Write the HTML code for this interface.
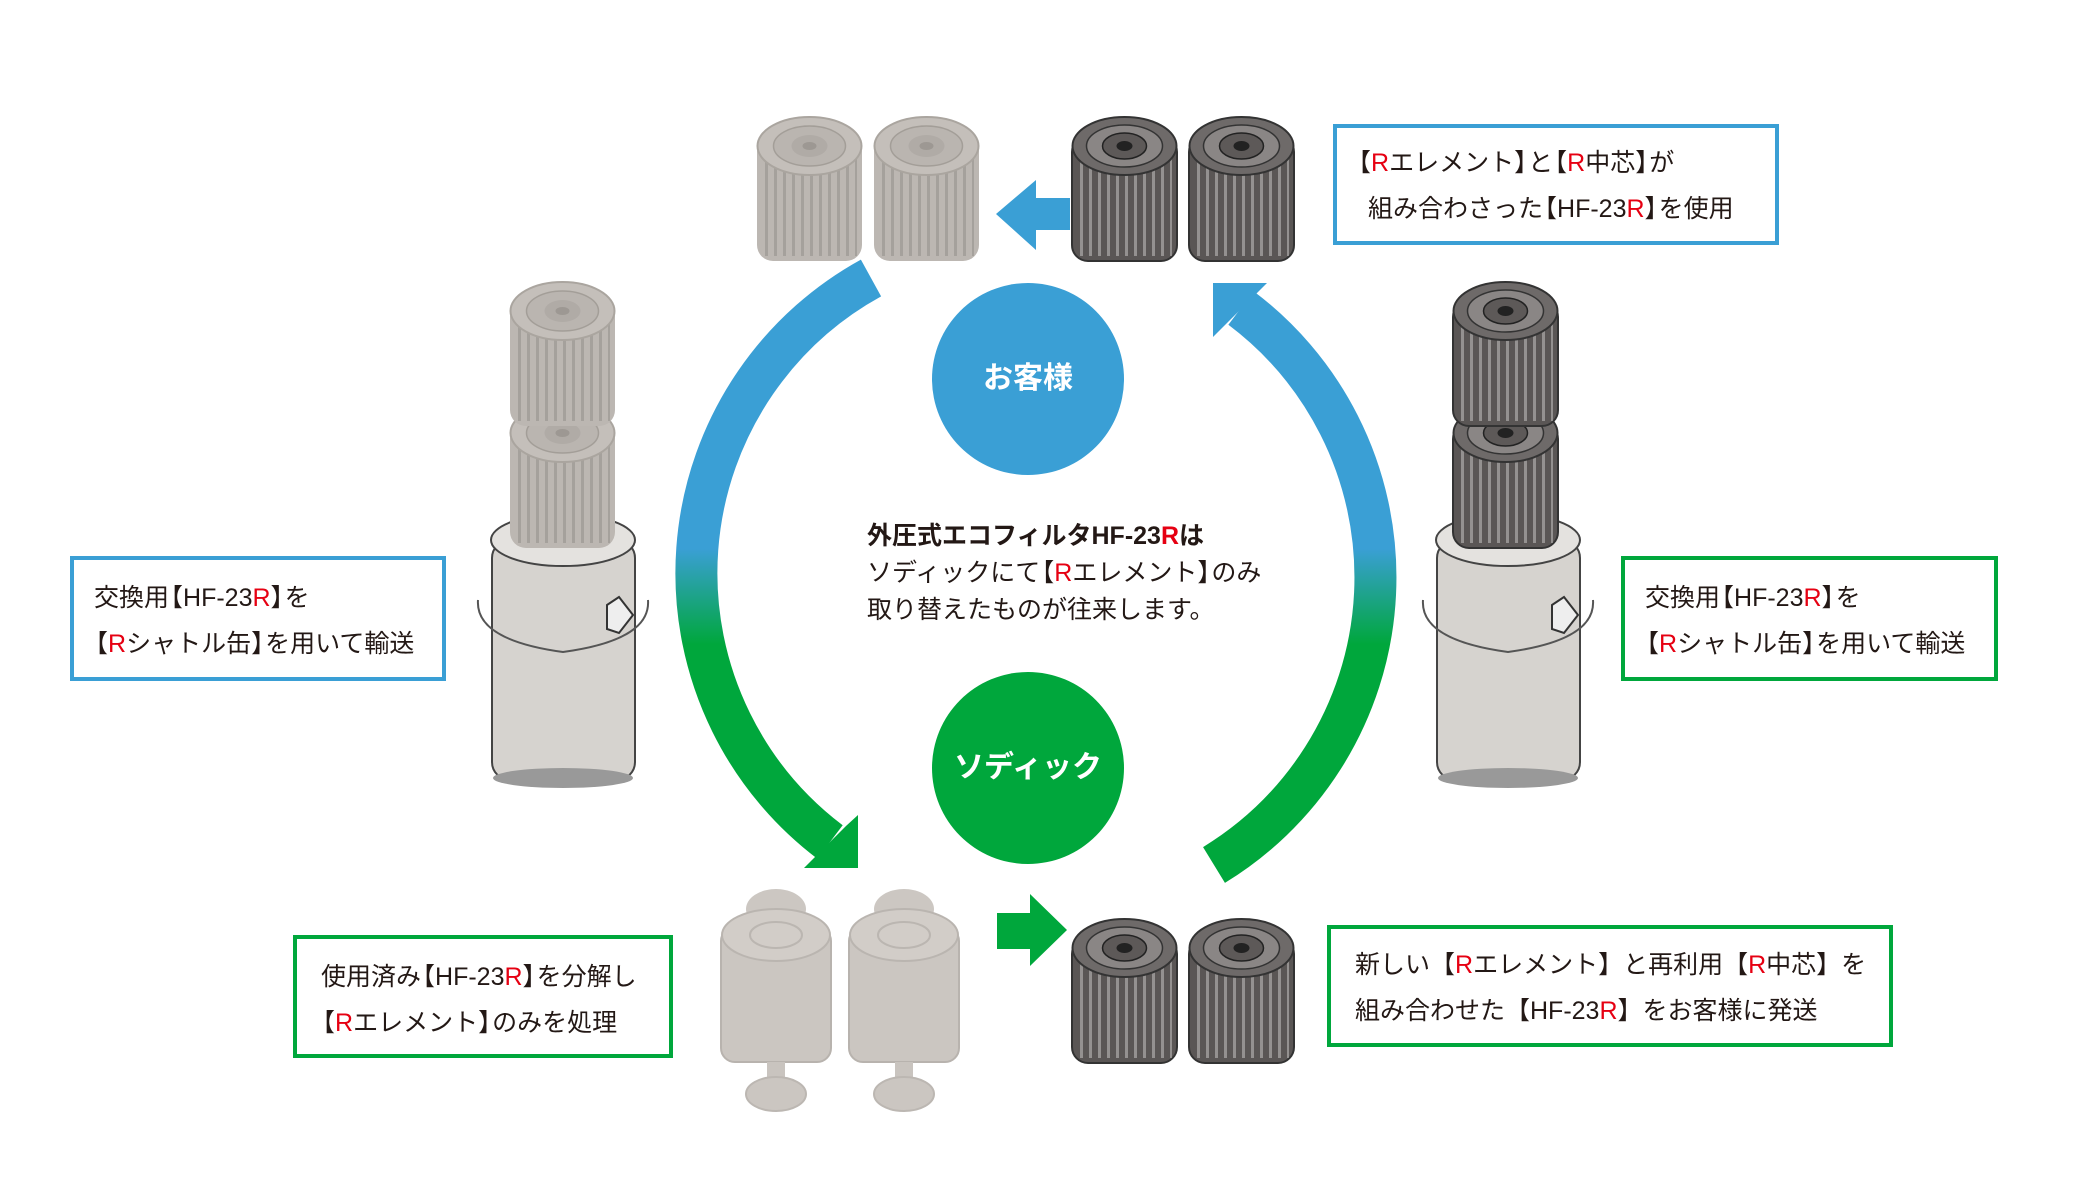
<!DOCTYPE html>
<html><head><meta charset="utf-8">
<style>
html,body{margin:0;padding:0;background:#fff;}
body{width:2079px;height:1193px;position:relative;overflow:hidden;font-family:"Liberation Sans","Noto Sans CJK JP",sans-serif;color:#231815;}
.box{position:absolute;box-sizing:border-box;border:4px solid #3a9fd5;background:#fff;font-size:25px;line-height:46px;padding-top:12px;white-space:nowrap;}
.g{border-color:#00a73c;}
.r{color:#e60012;}
.l{margin-left:-11px;}
.rr{margin-right:-11px;}
.ctext{position:absolute;left:867px;top:518px;font-size:25px;line-height:37px;white-space:nowrap;}
.circ{position:absolute;width:192px;height:192px;border-radius:50%;color:#fff;font-weight:bold;font-size:30px;text-align:center;line-height:192px;}
svg{position:absolute;left:0;top:0;}
</style></head><body>
<svg width="2079" height="1193" viewBox="0 0 2079 1193">
<defs>
<linearGradient id="arcg" x1="0" y1="0" x2="0" y2="1193" gradientUnits="userSpaceOnUse">
<stop offset="0.46" stop-color="#3a9fd5"/><stop offset="0.54" stop-color="#00a73c"/>
</linearGradient>
<pattern id="str" width="9" height="10" patternUnits="userSpaceOnUse"><rect x="0" width="3" height="10" fill="rgba(0,0,0,0.35)"/></pattern>
<pattern id="strL" width="9" height="10" patternUnits="userSpaceOnUse"><rect x="0" width="3" height="10" fill="rgba(255,255,255,0.35)"/></pattern>
<symbol id="fdark" viewBox="0 0 107 150">
<rect x="1" y="20" width="105" height="125" rx="16" fill="#5a5655" stroke="#333" stroke-width="2"/>
<rect x="6" y="40" width="95" height="100" fill="url(#strL)"/>
<ellipse cx="53.5" cy="30" rx="52" ry="29" fill="#6e6a69" stroke="#333" stroke-width="2"/>
<ellipse cx="53.5" cy="30" rx="38" ry="21" fill="#8a8685" stroke="#333" stroke-width="1.5"/>
<ellipse cx="53.5" cy="30" rx="22" ry="13" fill="#5d5958" stroke="#222" stroke-width="1.5"/>
<ellipse cx="53.5" cy="30" rx="8" ry="5" fill="#222"/>
</symbol>
<symbol id="flight" viewBox="0 0 107 150">
<rect x="1" y="20" width="105" height="125" rx="16" fill="#bcb7b2"/>
<rect x="6" y="40" width="95" height="100" fill="url(#str)" opacity="0.35"/>
<ellipse cx="53.5" cy="30" rx="52" ry="29" fill="#c4bfba" stroke="#aaa59f" stroke-width="2"/>
<ellipse cx="53.5" cy="30" rx="36" ry="20" fill="#bab5b0" stroke="#a39e98" stroke-width="1.5"/>
<ellipse cx="53.5" cy="30" rx="18" ry="11" fill="#b0aba6"/>
<ellipse cx="53.5" cy="30" rx="7" ry="4" fill="#9d9893"/>
</symbol>
<symbol id="cart" viewBox="0 0 114 227">
<ellipse cx="57" cy="22" rx="30" ry="20" fill="#ccc7c2"/>
<rect x="2" y="40" width="110" height="135" rx="14" fill="#cbc6c1" stroke="#b8b3ae" stroke-width="2"/>
<ellipse cx="57" cy="48" rx="54" ry="26" fill="#d2cdc8" stroke="#bab5b0" stroke-width="2"/>
<ellipse cx="57" cy="48" rx="26" ry="13" fill="none" stroke="#bbb6b1" stroke-width="2"/>
<rect x="48" y="175" width="18" height="25" fill="#c9c4bf"/>
<ellipse cx="57" cy="207" rx="30" ry="17" fill="#cbc6c1" stroke="#bcb7b2" stroke-width="2"/>
</symbol>
</defs>
<!-- arcs -->
<path d="M871,278 A337,337 0 0 0 830,842" fill="none" stroke="url(#arcg)" stroke-width="42"/>
<polygon points="846,826 858,815 858,868 804,868 815,857" fill="#00a73c"/>
<path d="M1214,865 A337,337 0 0 0 1241,308" fill="none" stroke="url(#arcg)" stroke-width="42"/>
<polygon points="1256,294 1267,283 1213,283 1213,337 1227,323" fill="#3a9fd5"/>
<!-- top-left blue arrow -->
<polygon points="1070,198 1036,198 1036,180 996,214 1036,250 1036,230 1070,230" fill="#3a9fd5"/>
<!-- bottom green arrow -->
<polygon points="997,913 1030,913 1030,894 1067,930 1030,966 1030,949 997,949" fill="#00a73c"/>
<!-- top filters -->
<use href="#flight" x="756" y="115" width="107" height="152"/>
<use href="#flight" x="873" y="115" width="107" height="152"/>
<use href="#fdark" x="1071" y="115" width="107" height="152"/>
<use href="#fdark" x="1188" y="115" width="107" height="152"/>
<!-- bottom right filters -->
<use href="#fdark" x="1071" y="913" width="107" height="160"/>
<use href="#fdark" x="1188" y="913" width="107" height="160"/>
<!-- bottom left cartridges -->
<use href="#cart" x="719" y="885" width="114" height="231"/>
<use href="#cart" x="847" y="885" width="114" height="231"/>
<!-- left can -->
<g transform="translate(-5,0)">
<rect x="497" y="540" width="143" height="240" rx="18" fill="#d6d3cf" stroke="#444" stroke-width="2"/>
<ellipse cx="568" cy="778" rx="70" ry="10" fill="#999"/>
<ellipse cx="568" cy="540" rx="72" ry="26" fill="#e4e2df" stroke="#444" stroke-width="2"/>
<path d="M483,600 Q480,640 568,652 Q656,640 653,600" fill="none" stroke="#555" stroke-width="2"/>
<use href="#flight" x="514" y="403" width="107" height="150"/>
<use href="#flight" x="514" y="281" width="107" height="150"/>
<path d="M612,605 l12,-8 l14,18 l-14,18 l-12,-4 z" fill="#eee" stroke="#333" stroke-width="2"/>
</g>
<!-- right can -->
<g transform="translate(-13,0)">
<rect x="1450" y="540" width="143" height="240" rx="18" fill="#d6d3cf" stroke="#444" stroke-width="2"/>
<ellipse cx="1521" cy="778" rx="70" ry="10" fill="#999"/>
<ellipse cx="1521" cy="540" rx="72" ry="26" fill="#e4e2df" stroke="#444" stroke-width="2"/>
<path d="M1436,600 Q1433,640 1521,652 Q1609,640 1606,600" fill="none" stroke="#555" stroke-width="2"/>
<use href="#fdark" x="1465" y="403" width="107" height="150"/>
<use href="#fdark" x="1465" y="281" width="107" height="150"/>
<path d="M1565,605 l12,-8 l14,18 l-14,18 l-12,-4 z" fill="#eee" stroke="#333" stroke-width="2"/>
</g>
</svg>

<div class="circ" style="left:932px;top:283px;background:#3a9fd5;">お客様</div>
<div class="circ" style="left:932px;top:672px;background:#00a73c;">ソディック</div>

<div class="ctext"><b>外圧式エコフィルタHF-23<span class="r">R</span>は</b><br>ソディックにて<span class="l"></span>【<span class="r">R</span>エレメント】<span class="rr"></span>のみ<br>取り替えたものが往来します。</div>

<div class="box" style="left:1333px;top:124px;width:446px;height:121px;padding-left:20px;"><span class="l"></span>【<span class="r">R</span>エレメント】<span class="rr"></span>と<span class="l"></span>【<span class="r">R</span>中芯】<span class="rr"></span>が<br><span style="margin-left:11px">組み合わさった</span><span class="l"></span>【HF-23<span class="r">R</span>】<span class="rr"></span>を使用</div>
<div class="box" style="left:70px;top:556px;width:376px;height:125px;padding-left:20px;padding-top:15px;">交換用<span class="l"></span>【HF-23<span class="r">R</span>】<span class="rr"></span>を<br><span class="l"></span>【<span class="r">R</span>シャトル缶】<span class="rr"></span>を用いて輸送</div>
<div class="box g" style="left:1621px;top:556px;width:377px;height:125px;padding-left:20px;padding-top:15px;">交換用<span class="l"></span>【HF-23<span class="r">R</span>】<span class="rr"></span>を<br><span class="l"></span>【<span class="r">R</span>シャトル缶】<span class="rr"></span>を用いて輸送</div>
<div class="box g" style="left:293px;top:935px;width:380px;height:123px;padding-left:24px;padding-top:15px;">使用済み<span class="l"></span>【HF-23<span class="r">R</span>】<span class="rr"></span>を分解し<br><span class="l"></span>【<span class="r">R</span>エレメント】<span class="rr"></span>のみを処理</div>
<div class="box g" style="left:1327px;top:925px;width:566px;height:122px;padding-left:24px;padding-top:13px;">新しい【<span class="r">R</span>エレメント】と再利用【<span class="r">R</span>中芯】を<br>組み合わせた【HF-23<span class="r">R</span>】をお客様に発送</div>
</body></html>
